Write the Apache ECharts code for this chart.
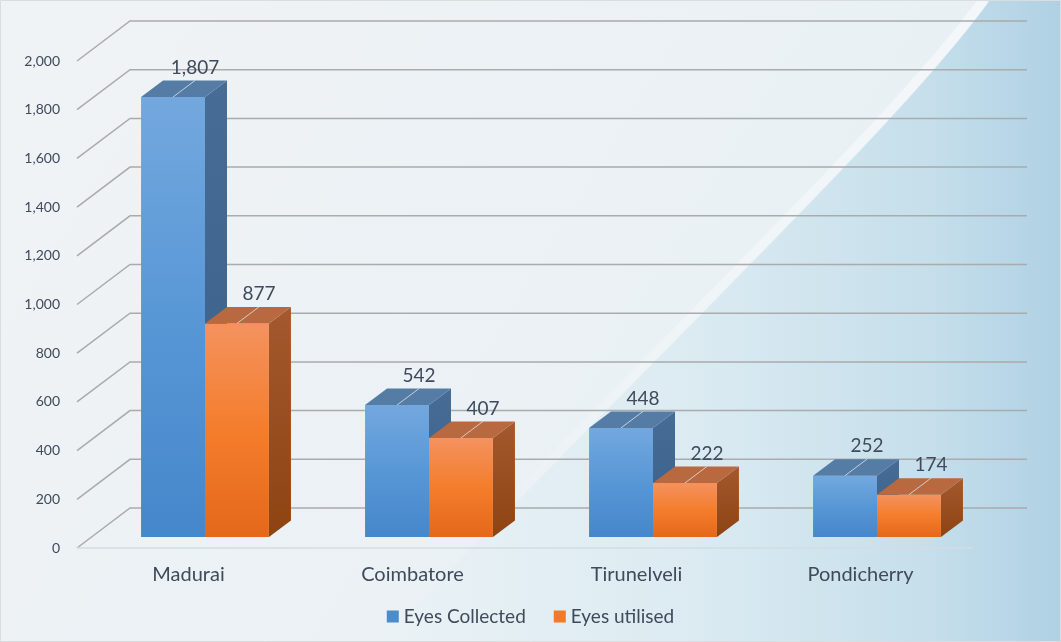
<!DOCTYPE html>
<html>
<head>
<meta charset="utf-8">
<title>Eyes collected and utilised</title>
<script src="https://cdn.jsdelivr.net/npm/echarts@6/dist/echarts.min.js"></script>
<style>
  html, body { margin: 0; padding: 0; background: #eef3f6; }
  #chart { width: 1061px; height: 642px; }
</style>
</head>
<body>
<div id="chart"></div>
<script>
var categories = ['Madurai', 'Coimbatore', 'Tirunelveli', 'Pondicherry'];
var eyesCollected = [1807, 542, 448, 252];
var eyesUtilised = [877, 407, 222, 174];
var yTicks = [0, 200, 400, 600, 800, 1000, 1200, 1400, 1600, 1800, 2000];

var textColor = '#3f4a5a';
var fontName = 'Lato, "Open Sans", sans-serif';

// depth of the boxes and of the back wall (pixels)
var barDx = 22, barDy = -16.5;
var wallFront = [-16, 11];
var wallBack = [37, -29];

function fmt(v) {
  return String(v).replace(/\B(?=(\d{3})+(?!\d))/g, ',');
}

// background swoosh outline (cubic bezier sampled into points)
function swoosh(p0, p1, p2, p3) {
  var pts = [];
  for (var i = 0; i <= 40; i++) {
    var t = i / 40, u = 1 - t;
    pts.push([
      u * u * u * p0[0] + 3 * u * u * t * p1[0] + 3 * u * t * t * p2[0] + t * t * t * p3[0],
      u * u * u * p0[1] + 3 * u * u * t * p1[1] + 3 * u * t * t * p2[1] + t * t * t * p3[1]
    ]);
  }
  return pts;
}
var curve = swoosh([990, 0], [900, 120], [760, 250], [380, 642]);
var curveHi = swoosh([984, 0], [894, 120], [754, 250], [374, 642]);

function gridLines(params, api) {
  var v = api.value(1);
  var y = api.coord([0, v])[1];
  var cs = params.coordSys;
  var left = cs.x, right = cs.x + cs.width;
  var kids = [{
    type: 'polyline',
    shape: { points: [[left + wallFront[0], y + wallFront[1]], [left + wallBack[0], y + wallBack[1]], [right + wallBack[0] + 1, y + wallBack[1]]] },
    style: { stroke: '#a9abad', lineWidth: 1.5, fill: 'none' }
  }];
  if (v === 0) {
    kids.push({
      type: 'line',
      shape: { x1: left + wallFront[0], y1: y + wallFront[1], x2: right + wallFront[0], y2: y + wallFront[1] },
      style: { stroke: '#d3dce1', lineWidth: 1.5 }
    });
  }
  return { type: 'group', children: kids };
}

function makeBar(side, colors) {
  return function (params, api) {
    var idx = api.value(0), val = api.value(1);
    var top = api.coord([idx, val]);
    var base = api.coord([idx, 0]);
    var w = api.size([1, 0])[0] * 0.2855;
    var x0 = side === 0 ? top[0] - w : top[0];
    var x1 = x0 + w;
    var y0 = top[1], y1 = base[1];
    var cx = (x0 + x1) / 2;
    return {
      type: 'group',
      children: [
        {
          type: 'polygon',
          shape: { points: [[x1, y0], [x1 + barDx, y0 + barDy], [x1 + barDx, y1 + barDy], [x1, y1]] },
          style: { fill: new echarts.graphic.LinearGradient(0, 0, 0, 1, [
            { offset: 0, color: colors.side[0] }, { offset: 1, color: colors.side[1] }]) }
        },
        {
          type: 'rect',
          shape: { x: x0, y: y0, width: w, height: y1 - y0 },
          style: { fill: new echarts.graphic.LinearGradient(0, 0, 0, 1, [
            { offset: 0, color: colors.front[0] }, { offset: 0.5, color: colors.front[1] }, { offset: 1, color: colors.front[2] }]) }
        },
        {
          type: 'polygon',
          shape: { points: [[x0, y0], [x1, y0], [x1 + barDx, y0 + barDy], [x0 + barDx, y0 + barDy]] },
          style: { fill: colors.top }
        },
        {
          type: 'line',
          shape: { x1: cx, y1: y0, x2: cx + barDx, y2: y0 + barDy },
          style: { stroke: 'rgba(215,222,230,0.85)', lineWidth: 1 }
        },
        {
          type: 'text',
          style: {
            text: fmt(val), x: cx + barDx, y: y0 + barDy - 13,
            align: 'center', verticalAlign: 'middle',
            textAlign: 'center', textVerticalAlign: 'middle',
            fill: textColor, font: '19px ' + fontName
          }
        }
      ]
    };
  };
}

var blue = { front: ['#73a8de', '#5897d6', '#4587cb'], side: ['#476d96', '#395e87'], top: '#557ca5' };
var orange = { front: ['#f4925f', '#f47d2c', '#e4681a'], side: ['#a4592e', '#8d4312'], top: '#b9693f' };

var chart = echarts.init(document.getElementById('chart'));

chart.setOption({
  backgroundColor: '#eef3f6',
  animation: false,
  graphic: [
    {
      type: 'rect', z: -11, silent: true,
      shape: { x: 0, y: 0, width: 1061, height: 642 },
      style: { fill: new echarts.graphic.LinearGradient(0, 0, 1, 1, [
        { offset: 0, color: '#f0f3f6' }, { offset: 1, color: '#e6eff4' }]) }
    },
    {
      type: 'polygon', z: -10, silent: true,
      shape: { points: curve.concat([[1061, 642], [1061, 0]]) },
      style: { fill: new echarts.graphic.LinearGradient(0, 0, 1, 0, [
        { offset: 0, color: '#eaf2f5' }, { offset: 0.45, color: '#dcebf2' },
        { offset: 0.8, color: '#c6dfeb' }, { offset: 1, color: '#afd1e4' }]) }
    },
    {
      type: 'polyline', z: -9, silent: true,
      shape: { points: curveHi },
      style: {
        stroke: new echarts.graphic.LinearGradient(0, 0, 0, 1, [
          { offset: 0, color: 'rgba(255,255,255,0.5)' }, { offset: 0.45, color: 'rgba(255,255,255,0.3)' },
          { offset: 0.85, color: 'rgba(255,255,255,0)' }]),
        lineWidth: 10, fill: 'none'
      }
    },
    {
      type: 'rect', z: -8, silent: true,
      shape: { x: 0.5, y: 0.5, width: 1060, height: 641 },
      style: { stroke: '#d9dde0', fill: 'none', lineWidth: 1 }
    }
  ],
  legend: {
    data: ['Eyes Collected', 'Eyes utilised'],
    top: 602,
    left: 'center',
    icon: 'rect',
    itemWidth: 12,
    itemHeight: 12,
    itemGap: 28,
    textStyle: { fontSize: 19, color: textColor, fontFamily: fontName }
  },
  grid: { left: 93, right: 72, top: 50, bottom: 105 },
  xAxis: {
    type: 'category',
    data: categories,
    axisLine: { show: false },
    axisTick: { show: false },
    axisLabel: {
      margin: 28,
      padding: [0, 33, 0, 0],
      fontSize: 20,
      color: textColor,
      fontFamily: fontName
    }
  },
  yAxis: {
    type: 'value',
    min: 0,
    max: 2000,
    interval: 200,
    axisLine: { show: false },
    axisTick: { show: false },
    splitLine: { show: false },
    axisLabel: {
      margin: 33,
      verticalAlign: 'top',
      lineHeight: 22,
      fontSize: 14,
      color: textColor,
      fontFamily: fontName,
      formatter: fmt
    }
  },
  series: [
    {
      name: 'walls',
      type: 'custom',
      silent: true,
      z: 1,
      renderItem: gridLines,
      data: yTicks.map(function (v) { return [0, v]; })
    },
    {
      name: 'Eyes Collected',
      type: 'custom',
      z: 2,
      itemStyle: { color: '#4a8ccc' },
      renderItem: makeBar(0, blue),
      data: eyesCollected.map(function (v, i) { return [i, v]; })
    },
    {
      name: 'Eyes utilised',
      type: 'custom',
      z: 3,
      itemStyle: { color: '#f07a28' },
      renderItem: makeBar(1, orange),
      data: eyesUtilised.map(function (v, i) { return [i, v]; })
    }
  ]
});
</script>
</body>
</html>
